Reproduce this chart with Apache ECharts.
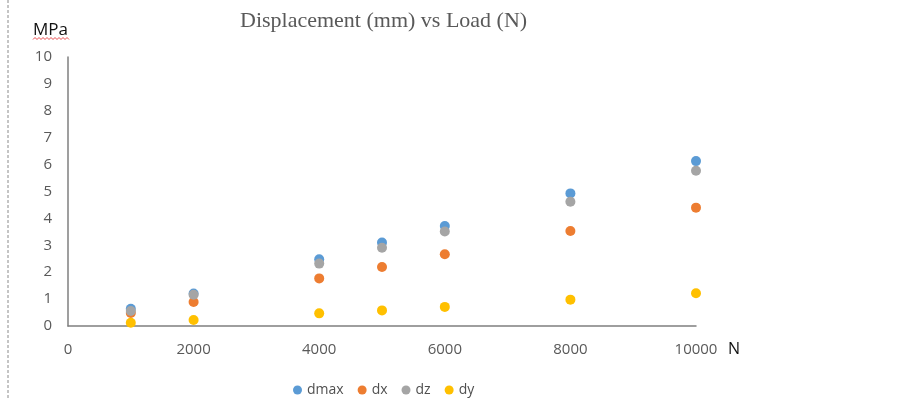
<!DOCTYPE html>
<html><head><meta charset="utf-8">
<script src="https://cdn.jsdelivr.net/npm/echarts@6/dist/echarts.min.js"></script>
<style>html,body{margin:0;padding:0;background:#fff}#c{width:922px;height:400px}</style>
</head><body><div id="c"></div>
<script>
var loads = [1000, 2000, 4000, 5000, 6000, 8000, 10000];
var dmax = [0.64, 1.21, 2.48, 3.10, 3.72, 4.93, 6.13];
var dx   = [0.48, 0.89, 1.77, 2.19, 2.67, 3.53, 4.40];
var dz   = [0.56, 1.16, 2.32, 2.91, 3.51, 4.62, 5.77];
var dy   = [0.12, 0.22, 0.47, 0.58, 0.71, 0.98, 1.22];
var xTicks = [0, 2000, 4000, 6000, 8000, 10000];
var yTicks = [0,1,2,3,4,5,6,7,8,9,10];

function pairs(v){ return loads.map(function(x,i){ return [x, v[i]]; }); }
var font = '"Open Sans", sans-serif';
var chart = echarts.init(document.getElementById('c'));
function s(name, data, color){
  return {name:name, type:'scatter', data:pairs(data), symbol:'circle', symbolSize:10,
    itemStyle:{color:color, opacity:1}, emphasis:{disabled:true}};
}
var wave = [];
for (var i = 0; i <= 18; i++) { wave.push([33 + i * 2, 38.5 + (i % 2 ? -1 : 1)]); }
chart.setOption({
  animation:false,
  title:{text:'Displacement (mm) vs Load (N)', left:235, top:5,
    textStyle:{fontFamily:'"Liberation Serif", serif', fontSize:22, fontWeight:'normal', color:'#595959'}},
  grid:{left:68, right:226, top:57, bottom:74, containLabel:false},
  legend:{left:288, top:378, icon:'circle', itemWidth:9, itemHeight:9, itemGap:14,
    textStyle:{fontFamily:font, fontSize:14, color:'#505050'},
    data:['dmax','dx','dz','dy']},
  xAxis:{type:'value', min:0, max:10000, interval:2000,
    axisLine:{show:true, onZero:false, lineStyle:{color:'#7f7f7f', width:1.5}},
    axisTick:{show:false}, splitLine:{show:false},
    axisLabel:{margin:16, fontFamily:font, fontSize:15, color:'#595959',
      formatter:function(v){ return xTicks.indexOf(v)>=0 ? String(v) : ''; }},
    name:'N', nameLocation:'end', nameGap:32,
    nameTextStyle:{fontFamily:font, fontSize:16, color:'#111', verticalAlign:'top', padding:[15,0,0,0]}},
  yAxis:{type:'value', min:0, max:10, interval:1,
    axisLine:{show:true, lineStyle:{color:'#7f7f7f', width:1.5}},
    axisTick:{show:false}, splitLine:{show:false},
    axisLabel:{margin:16, fontFamily:font, fontSize:15, color:'#595959',
      formatter:function(v){ return yTicks.indexOf(v)>=0 ? String(v) : ''; }},
    name:'MPa', nameLocation:'end', nameGap:18,
    nameTextStyle:{fontFamily:font, fontSize:17, color:'#111', align:'right'}},
  series:[s('dmax', dmax, '#5B9BD5'), s('dx', dx, '#ED7D31'), s('dz', dz, '#A5A5A5'), s('dy', dy, '#FFC000')],
  graphic:[
    {type:'line', shape:{x1:8, y1:0, x2:8, y2:400},
      style:{stroke:'#8a8a8a', lineWidth:1, lineDash:[3,2]}},
    {type:'polyline', shape:{points:wave}, style:{stroke:'#e8484a', lineWidth:1, fill:null}}
  ]
});
</script></body></html>
